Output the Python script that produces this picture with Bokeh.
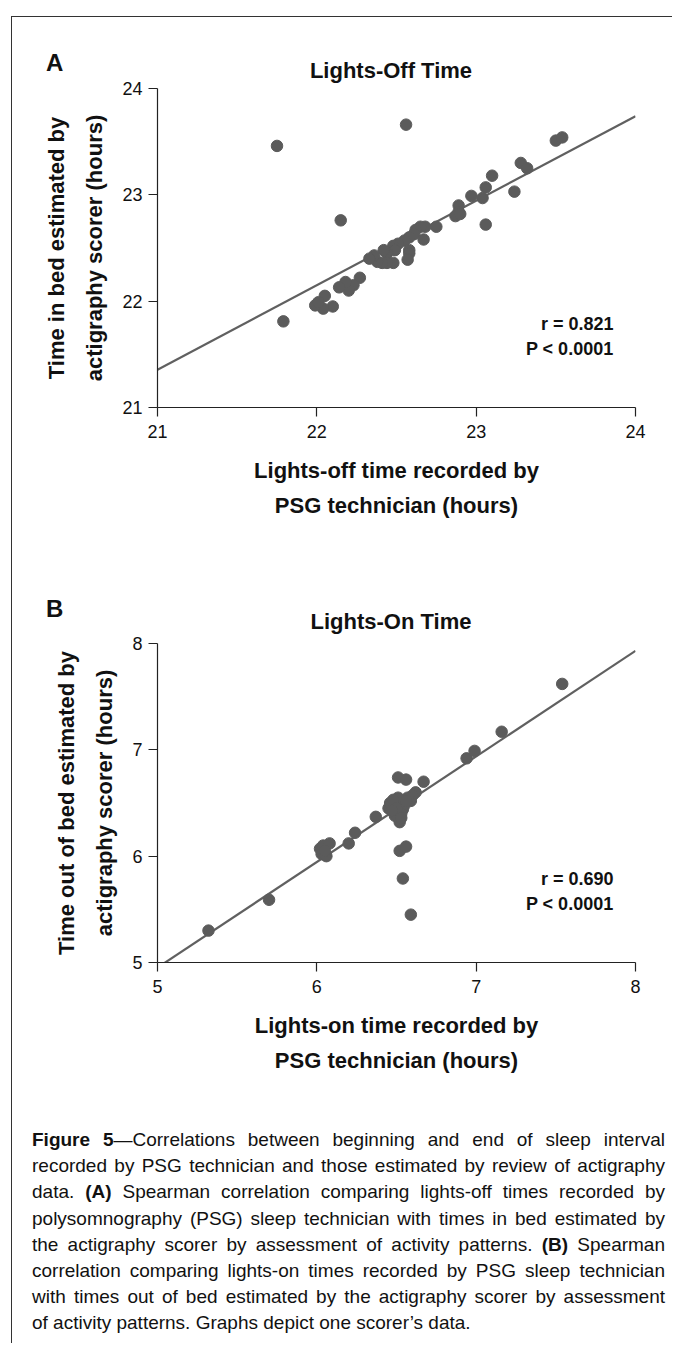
from bokeh.plotting import figure
from bokeh.models import Label, Div, FixedTicker, Range1d
from bokeh.layouts import column
from bokeh.embed import file_html
from bokeh.resources import INLINE

# ---------------- data ----------------
a_x = [21.75, 22.56, 22.15, 21.79, 23.50, 23.54, 23.28, 23.32, 23.10, 23.06, 23.04, 22.97,
       23.24, 23.06, 22.89, 22.89, 22.87, 22.90, 22.75, 22.68, 22.65, 22.62, 22.61, 22.58,
       22.55, 22.67, 22.58, 22.58, 22.57, 22.51, 22.48, 22.49, 22.44, 22.42, 22.48, 22.44,
       22.41, 22.38, 22.36, 22.33, 22.27, 22.23, 22.20, 22.18, 22.14, 22.05, 22.10, 22.04,
       21.99, 22.01]
a_y = [23.46, 23.66, 22.76, 21.81, 23.51, 23.54, 23.30, 23.25, 23.18, 23.07, 22.97, 22.99,
       23.03, 22.72, 22.90, 22.84, 22.80, 22.82, 22.70, 22.70, 22.70, 22.67, 22.63, 22.60,
       22.57, 22.58, 22.48, 22.45, 22.39, 22.54, 22.52, 22.48, 22.45, 22.48, 22.36, 22.36,
       22.36, 22.37, 22.43, 22.40, 22.22, 22.15, 22.10, 22.18, 22.13, 22.05, 21.95, 21.93,
       21.96, 21.99]
a_slope, a_intercept = 0.795, 4.66
a_ticks = [21, 22, 23, 24]
a_stats = ["r = 0.821", "P < 0.0001"]

b_x = [5.32, 5.70, 6.02, 6.04, 6.03, 6.06, 6.08, 6.05, 6.20, 6.24, 6.37, 6.52, 6.52, 6.56,
       6.54, 6.59, 6.51, 6.56, 6.67, 6.62, 6.60, 6.59, 6.57, 6.45, 6.47, 6.48, 6.50, 6.50,
       6.52, 6.53, 6.49, 6.46, 6.54, 6.55, 6.51, 6.48, 6.53, 6.56, 6.50, 6.47, 6.53, 6.94,
       6.99, 7.16, 7.54]
b_y = [5.30, 5.59, 6.07, 6.10, 6.02, 6.00, 6.12, 6.05, 6.12, 6.22, 6.37, 6.32, 6.05, 6.09,
       5.79, 5.45, 6.74, 6.72, 6.70, 6.60, 6.57, 6.52, 6.55, 6.45, 6.48, 6.42, 6.50, 6.40,
       6.46, 6.52, 6.38, 6.50, 6.44, 6.48, 6.55, 6.53, 6.40, 6.52, 6.45, 6.43, 6.36, 6.92,
       6.99, 7.17, 7.62]
b_slope, b_intercept = 0.993, -0.013
b_ticks = [5, 6, 7, 8]
b_stats = ["r = 0.690", "P < 0.0001"]

titles = ["Lights-Off Time", "Lights-On Time"]
panel_letters = ["A", "B"]
y_labels = ["Time in bed estimated by\nactigraphy scorer (hours)",
            "Time out of bed estimated by\nactigraphy scorer (hours)"]
x_labels = ["Lights-off time recorded by\nPSG technician (hours)",
            "Lights-on time recorded by\nPSG technician (hours)"]
caption_lines = [
    "<b>Figure 5</b>\u2014Correlations between beginning and end of sleep interval",
    "recorded by PSG technician and those estimated by review of actigraphy",
    "data. <b>(A)</b> Spearman correlation comparing lights-off times recorded by",
    "polysomnography (PSG) sleep technician with times in bed estimated by",
    "the actigraphy scorer by assessment of activity patterns. <b>(B)</b> Spearman",
    "correlation comparing lights-on times recorded by PSG sleep technician",
    "with times out of bed estimated by the actigraphy scorer by assessment",
    "of activity patterns. Graphs depict one scorer\u2019s data.",
]

FONT = "Liberation Sans"
DOT = "#5b5b5b"
LINE = "#606060"
INK = "#111111"

# page geometry: frame lines at x=11, y=16; content origin just inside them
OX, OY = 12, 17
W = 660
FL, FR = 157, 635  # plot frame left/right (page px)
OVER = 16          # figure canvas overlaps the header above it by this much


def header(letter, title, top, height, letter_cy, title_cy):
    parts = [
        f'<div style="position:absolute;left:{46 - OX}px;top:{letter_cy - 0.488 * 24 - top:.1f}px;'
        f'font:bold 24px \'{FONT}\';line-height:24px;color:{INK};">{letter}</div>',
        f'<div style="position:absolute;left:{391 - OX}px;top:{title_cy - 0.488 * 22 - top:.1f}px;'
        f'transform:translateX(-50%);white-space:nowrap;'
        f'font:bold 22px \'{FONT}\';line-height:22px;color:{INK};">{title}</div>',
    ]
    html = (f'<div style="position:relative;width:{W}px;height:{height}px;">'
            + "".join(parts) + "</div>")
    return Div(text=html, width=W, height=height, margin=0, styles={"overflow": "visible"})


def panel(xs, ys, slope, icpt, ticks, stats, ylab, xlab, top, height, frame_top, frame_bot):
    x0, x1 = ticks[0], ticks[-1]
    p = figure(width=W, height=height, output_backend="svg", toolbar_location=None,
               x_range=Range1d(x0, x1), y_range=Range1d(x0, x1),
               min_border_left=FL - OX, min_border_right=OX + W - FR,
               min_border_top=frame_top - top,
               min_border_bottom=top + height - frame_bot, margin=(-OVER, 0, 0, 0))
    p.outline_line_color = None
    p.grid.visible = False
    p.background_fill_color = "white"
    p.border_fill_color = None
    for ax in (p.xaxis[0], p.yaxis[0]):
        ax.ticker = FixedTicker(ticks=ticks)
        ax.minor_tick_line_color = None
        ax.major_tick_out = 9
        ax.major_tick_in = 0
        ax.axis_line_color = "#222222"
        ax.axis_line_width = 1.2
        ax.major_tick_line_color = "#222222"
        ax.major_tick_line_width = 1.2
        ax.major_label_text_font = FONT
        ax.major_label_text_font_size = "18px"
        ax.major_label_text_color = INK
        ax.axis_label_text_font = FONT
        ax.axis_label_text_font_size = "22px"
        ax.axis_label_text_font_style = "bold"
        ax.axis_label_text_color = INK
        ax.axis_label_text_align = "center"
    p.xaxis.axis_label_text_line_height = 1.42
    p.yaxis.axis_label_text_line_height = 1.55
    p.xaxis.major_label_standoff = 8
    p.yaxis.major_label_standoff = 6
    p.xaxis.axis_label = xlab
    p.yaxis.axis_label = ylab
    p.xaxis.axis_label_standoff = 17
    p.yaxis.axis_label_standoff = 12

    # fitted regression line across the axis range
    lx = [x0, x1]
    ly = [slope * v + icpt for v in lx]
    p.line(lx, ly, line_color=LINE, line_width=2.2)
    p.scatter(xs, ys, size=11.5, fill_color=DOT, line_color=DOT)

    def dx(px):
        return x0 + (px - FL) / (FR - FL) * (x1 - x0)

    def dy(py):
        return x0 + (frame_bot - py) / (frame_bot - frame_top) * (x1 - x0)

    for txt, off in zip(stats, (84, 59)):
        p.add_layout(Label(x=dx(613), y=dy(frame_bot - off), text=txt, text_font=FONT,
                           text_font_size="18px", text_font_style="bold",
                           text_align="right", text_baseline="middle", text_color=INK))
    return p


ha = header(panel_letters[0], titles[0], top=OY, height=88 - OY, letter_cy=63, title_cy=70.5)
pa = panel(a_x, a_y, a_slope, a_intercept, a_ticks, a_stats, y_labels[0], x_labels[0],
           top=88 - OVER, height=548 - (88 - OVER), frame_top=88, frame_bot=407)
hb = header(panel_letters[1], titles[1], top=548, height=643 - 548, letter_cy=608.5, title_cy=622)
pb = panel(b_x, b_y, b_slope, b_intercept, b_ticks, b_stats, y_labels[1], x_labels[1],
           top=643 - OVER, height=1120 - (643 - OVER), frame_top=643, frame_bot=962)

rows = []
for i, line in enumerate(caption_lines):
    last = "left" if i == len(caption_lines) - 1 else "justify"
    rows.append(f'<div style="text-align:justify;text-align-last:{last};white-space:nowrap;">{line}</div>')
cap_html = (f'<div style="width:633px;padding-top:7px;font-family:\'{FONT}\';font-size:19px;'
            f'line-height:26.2px;color:{INK};">' + "".join(rows) + "</div>")
cap = Div(text=cap_html, width=633, height=1343 - 1120, margin=(0, 0, 0, 32 - OX))

layout = column(ha, pa, hb, pb, cap, margin=(16, 0, 0, 11),
                styles={"border-left": "1px solid #333", "border-top": "1px solid #333",
                        "background": "white"})

open("out.html", "w").write(file_html(layout, INLINE))
